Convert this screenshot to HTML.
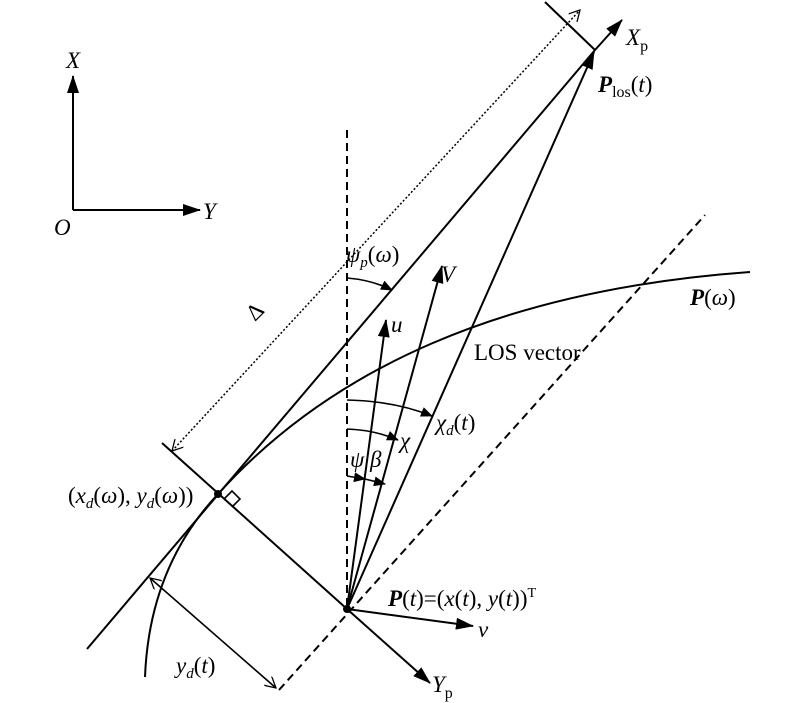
<!DOCTYPE html>
<html><head><style>body{margin:0;background:#fff}svg{display:block}text{font-family:"Liberation Serif",serif;font-size:23px}</style></head><body>
<svg width="800" height="703" viewBox="0 0 800 703" xmlns="http://www.w3.org/2000/svg">
<defs>
<marker id="a" markerWidth="12" markerHeight="10" refX="11" refY="5" orient="auto" markerUnits="userSpaceOnUse"><path d="M0,0 L12,5 L0,10 z" fill="#000"/></marker>
<marker id="b" markerWidth="18" markerHeight="12" refX="17" refY="6" orient="auto" markerUnits="userSpaceOnUse"><path d="M0,0 L18,6 L0,12 z" fill="#000"/></marker>
<marker id="o" markerWidth="12" markerHeight="12" refX="11" refY="6" orient="auto-start-reverse" markerUnits="userSpaceOnUse"><path d="M0,0 L11,6 L0,12" fill="none" stroke="#000" stroke-width="1.3"/></marker>
</defs>
<g stroke="#000" stroke-width="2" fill="none">
<line x1="73" y1="210" x2="73" y2="76" marker-end="url(#b)"/>
<line x1="73" y1="210" x2="200" y2="210" marker-end="url(#b)"/>
<line x1="347" y1="130" x2="347" y2="609" stroke-dasharray="8,5"/>
<line x1="279" y1="690" x2="705" y2="215" stroke-dasharray="8,5"/>
<line x1="87" y1="649" x2="595" y2="50"/>
<line x1="595" y1="50" x2="622" y2="20" marker-end="url(#b)"/>
<line x1="545" y1="2" x2="595" y2="50"/>
<line x1="162" y1="443" x2="347" y2="609"/>
<line x1="347" y1="609" x2="430" y2="683" marker-end="url(#b)"/>
<line x1="347" y1="609" x2="473" y2="626" marker-end="url(#b)"/>
<line x1="347" y1="609" x2="594" y2="52" marker-end="url(#b)"/>
<line x1="347" y1="609" x2="386" y2="320" marker-end="url(#b)"/>
<line x1="347" y1="609" x2="442" y2="266" marker-end="url(#b)"/>
<path d="M145,677 C148,600 175,540 218,494 C330,370 500,290 750,272"/>
<line x1="150" y1="578" x2="276" y2="688" marker-start="url(#o)" marker-end="url(#o)" stroke-width="1.6"/>
<line x1="172" y1="451" x2="580" y2="10" stroke-dasharray="2,2" stroke-width="1.5" marker-start="url(#o)" marker-end="url(#o)"/>
<path d="M347,278 Q372,280 392,290" marker-end="url(#a)" stroke-width="1.6"/>
<path d="M347,400 Q395,401 432,416" marker-end="url(#a)" stroke-width="1.6"/>
<path d="M347,429 Q375,430 398,440" marker-end="url(#a)" stroke-width="1.6"/>
<path d="M347,476 L365,479" marker-end="url(#a)" stroke-width="1.6"/>
<path d="M365,479 L385,484" marker-end="url(#a)" stroke-width="1.6"/>
<path d="M224,499 L232,491 L240,499 L232,507" stroke-width="1.6"/>
</g>
<circle cx="218" cy="494" r="4"/><circle cx="347" cy="609" r="4"/>
<g font-style="italic">
<text x="66" y="68">X</text><text x="54" y="235">O</text><text x="203" y="219">Y</text>
<text x="626" y="45">X<tspan font-style="normal" font-size="16" dy="6">p</tspan></text>
<text x="432" y="692">Y<tspan font-style="normal" font-size="16" dy="6">p</tspan></text>
<text x="598" y="92" font-weight="bold">P<tspan font-weight="normal" font-style="normal" font-size="16" dy="5">los</tspan><tspan font-weight="normal" font-style="normal" dy="-5">(</tspan><tspan font-weight="normal">t</tspan><tspan font-weight="normal" font-style="normal">)</tspan></text>
<text x="0" y="0" font-style="normal" transform="translate(255,322) rotate(-45)">Δ</text>
<text x="346" y="262">ψ<tspan font-size="15" dy="5">p</tspan><tspan font-style="normal" dy="-5">(</tspan>ω<tspan font-style="normal">)</tspan></text>
<text x="441" y="282">V</text><text x="391" y="332">u</text>
<text x="690" y="305" font-weight="bold">P<tspan font-weight="normal" font-style="normal">(</tspan><tspan font-weight="normal">ω</tspan><tspan font-weight="normal" font-style="normal">)</tspan></text>
<text x="474" y="360" font-style="normal">LOS vector</text>
<text x="436" y="430">χ<tspan font-size="15" dy="5">d</tspan><tspan font-style="normal" dy="-5">(</tspan>t<tspan font-style="normal">)</tspan></text>
<text x="400" y="448">χ</text><text x="350" y="467">ψ</text><text x="370" y="467">β</text>
<text x="68" y="503"><tspan font-style="normal">(</tspan>x<tspan font-size="15" dy="5">d</tspan><tspan font-style="normal" dy="-5">(</tspan>ω<tspan font-style="normal">), </tspan>y<tspan font-size="15" dy="5">d</tspan><tspan font-style="normal" dy="-5">(</tspan>ω<tspan font-style="normal">))</tspan></text>
<text x="388" y="606" font-weight="bold">P<tspan font-weight="normal" font-style="normal">(</tspan><tspan font-weight="normal">t</tspan><tspan font-weight="normal" font-style="normal">)=(</tspan><tspan font-weight="normal">x</tspan><tspan font-weight="normal" font-style="normal">(</tspan><tspan font-weight="normal">t</tspan><tspan font-weight="normal" font-style="normal">), </tspan><tspan font-weight="normal">y</tspan><tspan font-weight="normal" font-style="normal">(</tspan><tspan font-weight="normal">t</tspan><tspan font-weight="normal" font-style="normal">))</tspan><tspan font-weight="normal" font-style="normal" font-size="14" dy="-9">T</tspan></text>
<text x="478" y="637">v</text>
<text x="176" y="673">y<tspan font-size="15" dy="5">d</tspan><tspan font-style="normal" dy="-5">(</tspan>t<tspan font-style="normal">)</tspan></text>
</g>
</svg>
</body></html>
